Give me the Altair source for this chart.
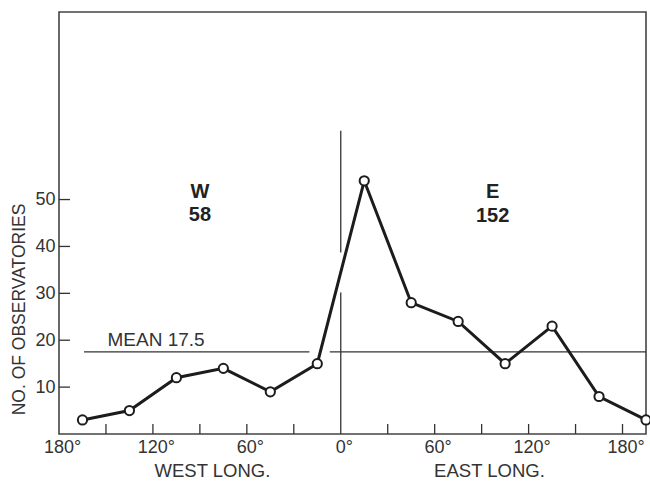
import altair as alt
import pandas as pd

# Observatories counted in 30-degree longitude bands (band centres, degrees east;
# the last point repeats the 165°W band at 195° so the curve wraps around)
lon = [-165, -135, -105, -75, -45, -15, 15, 45, 75, 105, 135, 165, 195]
counts = [3, 5, 12, 14, 9, 15, 54, 28, 24, 15, 23, 8, 3]

band_counts = counts[:12]
mean_count = sum(band_counts) / len(band_counts)
west_total = sum(c for l, c in zip(lon[:12], band_counts) if l < 0)
east_total = sum(c for l, c in zip(lon[:12], band_counts) if l > 0)

# Broken reference lines (gaps where the curve crosses them)
mean_segments = [(-164, -20), (-7, 195)]
meridian_segments = [(0, 30.2), (38.7, 64.7)]

x_tick_values = [-180, -150, -120, -90, -60, -30, 0, 30, 60, 90, 120, 150, 180]
x_inner_ticks = [-150, -120, -90, -60, -30, 30, 60, 90, 120, 150, 180]
y_tick_values = [10, 20, 30, 40, 50]

FONT = "Liberation Sans"
INK = "#1c1c1c"

df = pd.DataFrame({"lon": lon, "count": counts})
x_scale = alt.Scale(domain=[-180, 195], nice=False, zero=False)
y_scale = alt.Scale(domain=[0, 90], nice=False)

x_axis = alt.Axis(
    values=x_tick_values,
    labelExpr="abs(datum.value) % 60 == 0 ? abs(datum.value) + '°' : ''",
    ticks=False, domain=False, grid=False, title=None,
    labelFont=FONT, labelFontSize=18, labelColor="#333",
    labelPadding=4, labelOffset=3, labelFlush=False, labelOverlap=False,
)
y_axis = alt.Axis(
    values=y_tick_values, ticks=False, domain=False, grid=False,
    labelFont=FONT, labelFontSize=18, labelColor="#333", labelPadding=4,
    title="NO. OF OBSERVATORIES", titleFont=FONT, titleFontSize=17.5,
    titleFontWeight="normal", titleColor="#333", titleAngle=270,
    titleX=-40, titleY=297, titleAlign="center", titleBaseline="middle",
)

base = alt.Chart(df)

line = base.mark_line(color=INK, strokeWidth=3).encode(
    x=alt.X("lon:Q", scale=x_scale, axis=x_axis),
    y=alt.Y("count:Q", scale=y_scale, axis=y_axis),
)
points = base.mark_point(
    shape="circle", size=85, filled=True, fill="white", stroke=INK, strokeWidth=2, opacity=1
).encode(x=alt.X("lon:Q", scale=x_scale), y=alt.Y("count:Q", scale=y_scale))

mean_df = pd.DataFrame(
    {"x0": [s[0] for s in mean_segments], "x1": [s[1] for s in mean_segments],
     "m": [mean_count] * len(mean_segments)}
)
mean_rule = alt.Chart(mean_df).mark_rule(color="#333", strokeWidth=1.3).encode(
    x=alt.X("x0:Q", scale=x_scale), x2="x1:Q", y=alt.Y("m:Q", scale=y_scale)
)

mer_df = pd.DataFrame(
    {"y0": [s[0] for s in meridian_segments], "y1": [s[1] for s in meridian_segments],
     "l": [0] * len(meridian_segments)}
)
meridian = alt.Chart(mer_df).mark_rule(color="#333", strokeWidth=1.3).encode(
    x=alt.X("l:Q", scale=x_scale), y=alt.Y("y0:Q", scale=y_scale), y2="y1:Q"
)

# Inward-pointing tick marks on both axes
xt = alt.Chart(pd.DataFrame({"t": x_inner_ticks})).mark_rule(color="#333", strokeWidth=1.3).encode(
    x=alt.X("t:Q", scale=x_scale), y=alt.value(422), y2=alt.value(412)
)
yt = alt.Chart(pd.DataFrame({"t": y_tick_values})).mark_rule(color="#333", strokeWidth=1.3).encode(
    y=alt.Y("t:Q", scale=y_scale), x=alt.value(0), x2=alt.value(11)
)

mean_label = alt.Chart(pd.DataFrame({"x": [-149], "y": [20.0],
                                     "t": [f"MEAN {mean_count:g}"]})).mark_text(
    font=FONT, fontSize=19, color="#333", align="left", baseline="middle"
).encode(x=alt.X("x:Q", scale=x_scale), y=alt.Y("y:Q", scale=y_scale), text="t:N")

hemi_df = pd.DataFrame({
    "x": [-90, -90, 97, 97],
    "y": [51.7, 46.8, 51.6, 46.5],
    "t": ["W", str(west_total), "E", str(east_total)],
})
hemi_labels = alt.Chart(hemi_df).mark_text(
    font=FONT, fontSize=20, fontWeight="bold", color="#222", align="center", baseline="middle"
).encode(x=alt.X("x:Q", scale=x_scale), y=alt.Y("y:Q", scale=y_scale), text="t:N")

axis_titles = alt.Chart(pd.DataFrame({"x": [-82, 95], "y": [-7.9, -7.9],
                                      "t": ["WEST LONG.", "EAST LONG."]})).mark_text(
    font=FONT, fontSize=18.5, color="#333", align="center", baseline="middle"
).encode(x=alt.X("x:Q", scale=x_scale), y=alt.Y("y:Q", scale=y_scale), text="t:N")

chart = (
    alt.layer(mean_rule, meridian, xt, yt, line, points, mean_label, hemi_labels, axis_titles)
    .properties(
        width=587, height=422,
        autosize=alt.AutoSizeParams(type="none"),
        padding={"left": 59, "top": 12, "right": 4, "bottom": 47},
        background="white",
    )
    .configure_view(stroke="#444", strokeWidth=1.6)
)

chart.save("out.html", embed_options={"renderer": "svg", "actions": False})
